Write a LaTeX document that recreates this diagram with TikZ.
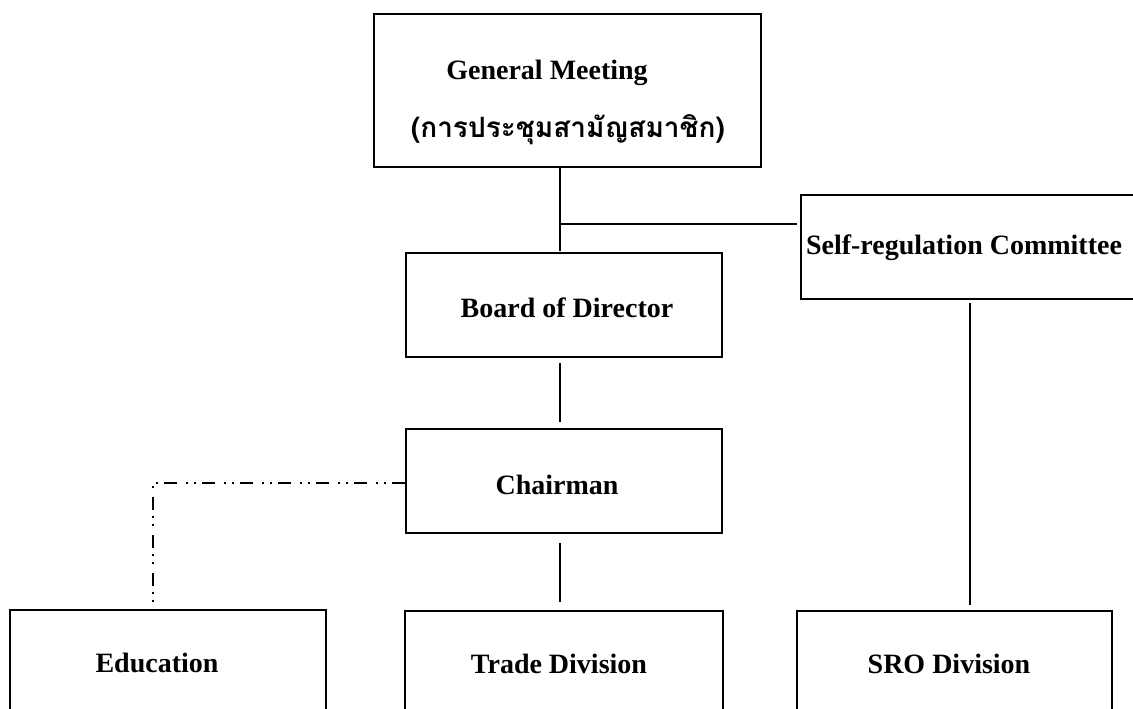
\documentclass[tikz,border=0pt]{standalone}
\usepackage{fontspec}
\setmainfont{Liberation Serif}
\newfontfamily\thaifont[Script=Thai]{Loma}
\begin{document}
\begin{tikzpicture}[x=1pt,y=-1pt,
  box/.style={draw=black,line width=2pt,rectangle,inner sep=0pt},
  lbl/.style={inner sep=0pt,font=\fontsize{28}{32}\selectfont\bfseries},
  link/.style={draw=black,line width=2pt},
  dashdot/.style={draw=black,line width=2pt,dash pattern=on 13pt off 6pt on 2pt off 6pt on 2pt off 9pt}]
\useasboundingbox (0,0) rectangle (1133,709);
\clip (0,0) rectangle (1133,709);

% boxes
\node[box,minimum width=387pt,minimum height=153pt] (gm)    at (567.5,90.5) {};
\node[box,minimum width=316pt,minimum height=104pt] (board) at (564,305) {};
\node[box,minimum width=316pt,minimum height=104pt] (chair) at (564,481) {};
\node[box,minimum width=360pt,minimum height=104pt] (src)   at (981,247) {};
\node[box,minimum width=316pt,minimum height=110pt] (edu)   at (168,665) {};
\node[box,minimum width=318pt,minimum height=110pt] (trade) at (564,666) {};
\node[box,minimum width=315pt,minimum height=110pt] (sro)   at (954.5,666) {};

% labels
\node[lbl] (gmtext)    at (547,73)  {General Meeting};
\node[lbl,font=\fontsize{28}{32}\selectfont\thaifont\bfseries] (gmthai) at (568,130) {(การประชุมสามัญสมาชิก)};
\node[lbl] (boardtext) at (567,308) {Board of Director};
\node[lbl] (chairtext) at (557,485) {Chairman};
\node[lbl] (srctext)   at (964,248) {Self-regulation Committee};
\node[lbl] (edutext)   at (157,663) {Education};
\node[lbl] (tradetext) at (559,664) {Trade Division};
\node[lbl] (srotext)   at (949,664) {SRO Division};

% connectors
\coordinate (gmfoot)   at (560,167);
\coordinate (branch)   at (560,224);
\coordinate (boardtop) at (560,251);
\coordinate (srcjoin)  at (797,224);
\draw[link] (gmfoot) -- (boardtop);
\draw[link] (branch) -- (srcjoin);

\coordinate (b1) at (560,363);
\coordinate (b2) at (560,422);
\draw[link] (b1) -- (b2);

\coordinate (c1) at (560,543);
\coordinate (c2) at (560,602);
\draw[link] (c1) -- (c2);

\coordinate (s1) at (970,303);
\coordinate (s2) at (970,605);
\draw[link] (s1) -- (s2);

\coordinate (corner) at (153,483);
\coordinate (edutop) at (153,602);
\draw[dashdot] (chair.west |- corner) -- (corner) -- (edutop);
\end{tikzpicture}
\end{document}
